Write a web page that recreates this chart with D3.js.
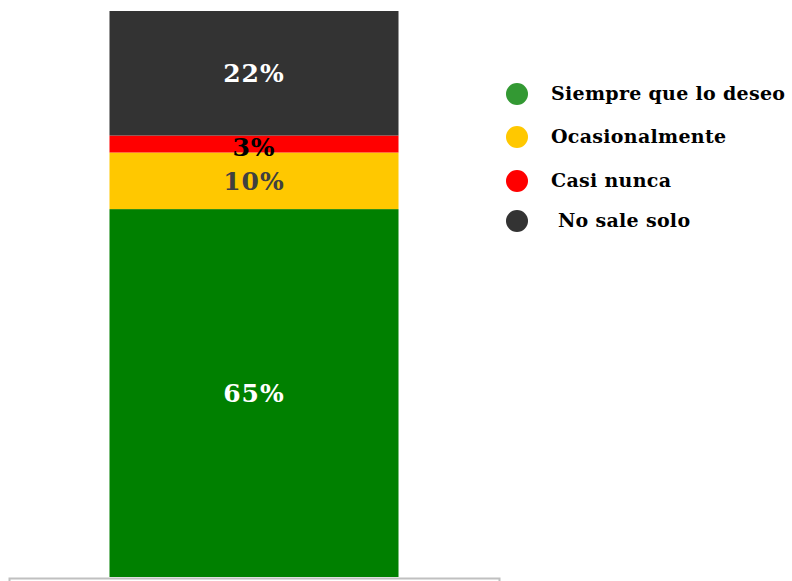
<!DOCTYPE html>
<meta charset="utf-8">
<style>
body { margin: 0; background: #fff; }
.axis path, .axis line { stroke: #c0c0c0; stroke-width: 2; }
.axis text { display: none; }
.label { font-family: "DejaVu Serif", serif; font-weight: bold; font-size: 25px; letter-spacing: 1px; text-anchor: middle; }
.legend text { font-family: "DejaVu Serif", serif; font-weight: bold; font-size: 19px; letter-spacing: 0.3px; fill: #000; }
</style>
<svg width="792" height="581"></svg>
<script src="https://d3js.org/d3.v7.min.js"></script>
<script>

var categories = ["Total"],
    series = ["Siempre que lo deseo", "Ocasionalmente", "Casi nunca", " No sale solo"],
    values = [65, 10, 3, 22],
    colors = ["#008000", "#ffc800", "#ff0000", "#333333"],
    legendColors = ["#339933", "#ffc800", "#ff0000", "#333333"],
    labelColors = ["#ffffff", "#404040", "#000000", "#ffffff"],
    labelShift = [0, 0, 3, 0];

var svg = d3.select("svg"),
    margin = {top: 11, bottom: 4, left: 9, right: 293},
    width = +svg.attr("width") - margin.left - margin.right,
    height = +svg.attr("height") - margin.top - margin.bottom;

var x = d3.scaleBand().domain(categories).range([0, width]).padding(0.258),
    y = d3.scaleLinear().domain([0, 100]).range([height, 0]);

var g = svg.append("g")
    .attr("transform", "translate(" + margin.left + "," + margin.top + ")");

var rows = [];
var acc = 0;
values.forEach(function(v, i) {
  rows.push({name: series[i], v: v, y0: acc, y1: acc + v, i: i});
  acc += v;
});

g.selectAll(".seg")
  .data(rows)
  .enter().append("rect")
    .attr("class", "seg")
    .attr("x", x("Total"))
    .attr("width", x.bandwidth())
    .attr("y", function(d) { return y(d.y1); })
    .attr("height", function(d) { return y(d.y0) - y(d.y1); })
    .attr("fill", function(d) { return colors[d.i]; });

g.append("g")
    .attr("class", "axis")
    .attr("transform", "translate(0," + (height + 1) + ")")
    .call(d3.axisBottom(x).tickSizeInner(0).tickSizeOuter(4));

g.selectAll(".label")
  .data(rows)
  .enter().append("text")
    .attr("class", "label")
    .attr("x", x("Total") + x.bandwidth() / 2)
    .attr("y", function(d) { return (y(d.y0) + y(d.y1)) / 2 + labelShift[d.i]; })
    .attr("dy", "0.35em")
    .attr("fill", function(d) { return labelColors[d.i]; })
    .text(function(d) { return d.v + "%"; });

var legend = svg.append("g").attr("class", "legend")
    .attr("transform", "translate(517,94)");

var item = legend.selectAll("g")
  .data(series)
  .enter().append("g")
    .attr("transform", function(d, i) { return "translate(0," + [0, 43, 87, 127][i] + ")"; });

item.append("circle")
    .attr("r", 11)
    .attr("fill", function(d, i) { return legendColors[i]; });

item.append("text")
    .attr("x", 34)
    .attr("dy", "0.32em")
    .attr("xml:space", "preserve")
    .style("white-space", "pre")
    .text(function(d) { return d; });

</script>
